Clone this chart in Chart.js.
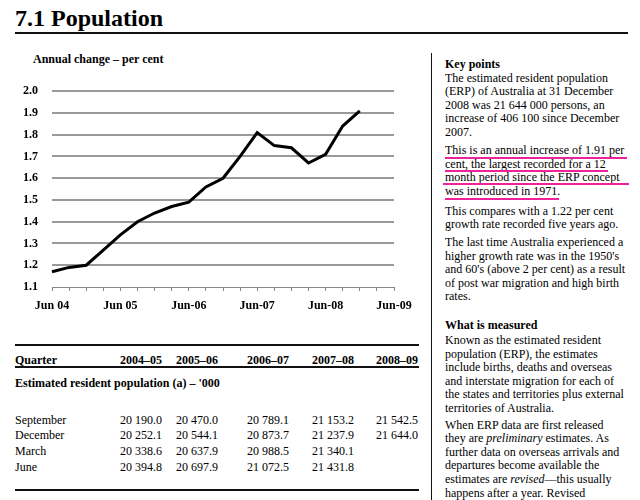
<!DOCTYPE html>
<html>
<head>
<meta charset="utf-8">
<script src="https://cdn.jsdelivr.net/npm/chart.js@4"></script>
<style>
  html, body { margin:0; padding:0; background:#fff; }
  body { width:640px; height:500px; position:relative; overflow:hidden;
         font-family:'Liberation Serif','Times New Roman',serif; color:#000; }
  .t { position:absolute; font-size:12px; line-height:14px; white-space:nowrap; }
  .b { font-weight:bold; }
  .rule { position:absolute; background:#111; }
  .pink { position:absolute; background:#ee2299; height:2px; }
  #chartBox { position:absolute; left:0; top:70px; width:420px; height:250px; }
</style>
</head>
<body>
<div class="t b" style="left:15px; top:6px; font-size:24px; line-height:24px;">7.1 Population</div>
<div class="rule" style="left:15px; top:32px; width:613px; height:2px;"></div>
<div class="t b" style="left:33px; top:52px;">Annual change – per cent</div>
<div id="chartBox"><canvas id="c"></canvas></div>
<div class="rule" style="left:431px; top:53px; width:1px; height:447px;"></div>
<div id="textLayer"></div>
<script>
// ---- chart data ----
const quarters = ['Jun 04','Sep 04','Dec 04','Mar 05','Jun 05','Sep 05','Dec 05','Mar 06','Jun 06','Sep 06','Dec 06',
                  'Mar 07','Jun 07','Sep 07','Dec 07','Mar 08','Jun 08','Sep 08','Dec 08','Mar 09','Jun 09'];
const growth = [1.17,1.19,1.20,1.27,1.34,1.40,1.44,1.47,1.49,1.56,1.60,
                1.70,1.81,1.75,1.74,1.67,1.71,1.84,1.91,null,null];
const tickLabels = ['Jun 04','Jun 05','Jun-06','Jun-07','Jun-08','Jun-09'];

// ---- table data ----
const years = ['2004–05','2005–06','2006–07','2007–08','2008–09'];
const rowLabels = ['September','December','March','June'];
const erp0405 = [20190.0, 20252.1, 20338.6, 20394.8];
const erp0506 = [20470.0, 20544.1, 20637.9, 20697.9];
const erp0607 = [20789.1, 20873.7, 20988.5, 21072.5];
const erp0708 = [21153.2, 21237.9, 21340.1, 21431.8];
const erp0809 = [21542.5, 21644.0, null, null];

// ---- side text ----
const keyPoints1 = ['The estimated resident population','(ERP) of Australia at 31 December',
  '2008 was 21 644 000 persons, an','increase of 406 100 since December','2007.'];
const keyPoints2 = ['This is an annual increase of 1.91 per','cent, the largest recorded for a 12',
  'month period since the ERP concept','was introduced in 1971.'];
const keyPoints3 = ['This compares with a 1.22 per cent','growth rate recorded five years ago.'];
const keyPoints4 = ['The last time Australia experienced a','higher growth rate was in the 1950\'s',
  'and 60\'s (above 2 per cent) as a result','of post war migration and high birth','rates.'];
const measured1 = ['Known as the estimated resident','population (ERP), the estimates',
  'include births, deaths and overseas','and interstate migration for each of',
  'the states and territories plus external','territories of Australia.'];
const measured2 = ['When ERP data are first released','they are <i>preliminary</i> estimates. As',
  'further data on overseas arrivals and','departures become available the',
  'estimates are <i>revised</i>—this usually','happens after a year. Revised'];

const layer = document.getElementById('textLayer');
function addText(html, x, cy, cls, align, w) {
  const d = document.createElement('div');
  d.className = 't' + (cls ? ' ' + cls : '');
  d.style.top = (cy - 7) + 'px';
  if (align === 'right') { d.style.left = (x - w) + 'px'; d.style.width = w + 'px'; d.style.textAlign = 'right'; }
  else d.style.left = x + 'px';
  d.innerHTML = html;
  layer.appendChild(d);
}
function addLines(lines, x, y0, step) { lines.forEach((l, i) => addText(l, x, y0 + i * step)); }
function addRule(x, y, w, h, cls) {
  const d = document.createElement('div'); d.className = cls || 'rule';
  d.style.left = x + 'px'; d.style.top = y + 'px'; d.style.width = w + 'px'; if (h) d.style.height = h + 'px';
  layer.appendChild(d);
}

// right column
const RX = 445;
addText('Key points', RX, 64, 'b');
addLines(keyPoints1, RX, 77.6, 13.5);
addLines(keyPoints2, RX, 150, 13.5);
addLines(keyPoints3, RX, 210.5, 13.5);
addLines(keyPoints4, RX, 242, 13.6);
addText('What is measured', RX, 324.5, 'b');
addLines(measured1, RX, 340, 13.6);
addLines(measured2, RX, 424.5, 13.6);
addRule(445, 157, 182, 2, 'pink');
addRule(445, 169.5, 163, 2, 'pink');
addRule(443, 183, 186, 2, 'pink');
addRule(445, 197.5, 114, 2, 'pink');

// table
function fmt(v) {
  if (v === null) return '';
  const s = v.toFixed(1); const [i, d] = s.split('.');
  return i.slice(0, i.length - 3) + ' ' + i.slice(-3) + '.' + d;
}
const colRight = [162, 218, 289, 354, 418];
const cols = [erp0405, erp0506, erp0607, erp0708, erp0809];
addRule(15, 344, 404, 2);
addText('Quarter', 15, 360, 'b');
years.forEach((y, i) => addText(y, colRight[i], 360, 'b', 'right', 70));
addRule(15, 366, 404, 2);
addText('Estimated resident population (a) – \'000', 15, 383, 'b');
const rowY = [419.5, 435, 451, 466.5];
rowLabels.forEach((r, j) => {
  addText(r, 15, rowY[j]);
  cols.forEach((c, i) => addText(fmt(c[j]), colRight[i], rowY[j], '', 'right', 70));
});
addRule(15, 489, 404, 2);

// chart
const FONT = { family: "'Liberation Serif','Times New Roman',serif", size: 12, weight: 'bold' };
new Chart(document.getElementById('c'), {
  type: 'line',
  data: {
    labels: quarters,
    datasets: [{ data: growth, borderColor: '#000', borderWidth: 3, pointRadius: 0, tension: 0, fill: false, spanGaps: false }]
  },
  options: {
    responsive: true, maintainAspectRatio: false, animation: false,
    layout: { padding: { left: 0, right: 26, top: 12, bottom: 0 } },
    plugins: { legend: { display: false }, tooltip: { enabled: false } },
    scales: {
      x: {
        offset: false,
        grid: { drawOnChartArea: false, drawTicks: true, tickLength: 4, color: '#888', lineWidth: 1 },
        border: { display: true, color: '#888', width: 1 },
        ticks: { autoSkip: false, maxRotation: 0, minRotation: 0, padding: 8, color: '#000', font: FONT,
                 callback: (v, i) => (i % 4 === 0 ? tickLabels[i / 4] : '') },
        afterFit: s => { s.height = 33; }
      },
      y: {
        min: 1.1, max: 2.0,
        grid: { drawTicks: false, color: '#9a9a9a', lineWidth: c => (c.tick && c.tick.value < 1.15 ? 0 : 2) },
        border: { display: false },
        ticks: { stepSize: 0.1, padding: 14, color: '#000', font: FONT, callback: v => Number(v).toFixed(1) },
        afterFit: s => { s.width = 52; }
      }
    }
  }
});
</script>
</body>
</html>
